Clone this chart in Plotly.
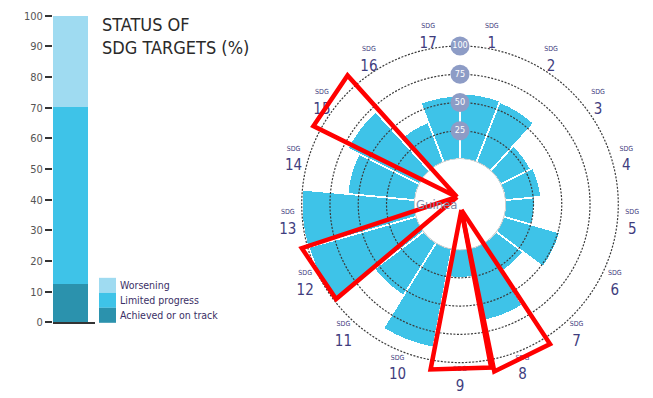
import numpy as np
import plotly.graph_objects as go

# ---- Status of SDG targets (%) ----
status_labels = ["Achieved or on track", "Limited progress", "Worsening"]
status_values = [12.7, 57.6, 29.7]
status_colors = ["#2b92ad", "#3ec3e8", "#9fdbf1"]
y_ticks = list(range(0, 101, 10))

# ---- Progress by goal (radial bars) ----
country = "Guinea"
sdg_numbers = list(range(1, 18))
sdg_values = [58, 57, 30, 32, 26, 52, 30, 65, 25, 89, 55, 99, 100, 60, 71, 38, 56]
ring_values = [25, 50, 75, 100]

# Red highlight triangles (theta clockwise from north, r in goal units)
highlight_theta = [
    [338.0, 318.9, 298.1, 338.0],
    [338.0, 254.5, 232.6, 338.0],
    [165.8, 190.1, 169.2, 165.8],
    [165.8, 168.4, 147.2, 165.8],
]
highlight_r = [
    [-33.0, 111.3, 107.0, -33.0],
    [-33.0, 105.2, 98.0, -33.0],
    [-34.9, 108.4, 107.0, -34.9],
    [-34.9, 110.9, 107.0, -34.9],
]

FONT = "Liberation Sans Narrow, DejaVu Sans Condensed, Arial Narrow, sans-serif"
BAR_BLUE = "#3ec3e8"
LABEL_COLOR = "#3f3d7e"

W, H = 653, 398
# polar geometry (pixels)
CX, CY, R_OUT = 460, 205, 187
R_MAX = 120.0
HOLE = 0.25
R_MAX2 = R_MAX / (1 - HOLE)
OFFSET = R_MAX2 - R_MAX

pdom_x = [(CX - R_OUT) / W, (CX + R_OUT) / W]
pdom_y = [(H - CY - R_OUT) / H, (H - CY + R_OUT) / H]

fig = go.Figure()

# stacked status bar
for lab, val, col in zip(status_labels, status_values, status_colors):
    fig.add_trace(go.Bar(
        x=[0], y=[val], name=lab, marker=dict(color=col, line=dict(width=0)),
        width=1.0, showlegend=False, hoverinfo="skip",
    ))

# radial bars
n = len(sdg_numbers)
step = 360.0 / n
theta_mid = [(k - 0.5) * step for k in sdg_numbers]

fig.add_trace(go.Barpolar(
    r=sdg_values, theta=theta_mid, width=[step] * n,
    marker=dict(color=BAR_BLUE, line=dict(color="white", width=1.8)),
    subplot="polar", showlegend=False, hoverinfo="skip",
))

# dashed value rings, drawn over the bars
ring_theta = np.linspace(0, 360, 361)
for rv in ring_values:
    fig.add_trace(go.Scatterpolar(
        r=[rv] * len(ring_theta), theta=ring_theta, mode="lines",
        line=dict(color="#3a3a3a", width=1.2, dash="2px,1.5px"), subplot="polar",
        showlegend=False, hoverinfo="skip",
    ))

# hole outline
fig.add_trace(go.Scatterpolar(
    r=[0] * len(ring_theta), theta=ring_theta, mode="lines",
    line=dict(color="#c4c4c4", width=1.5), subplot="polar",
    showlegend=False, hoverinfo="skip",
))

# ring value badges
fig.add_trace(go.Scatterpolar(
    r=ring_values, theta=[0] * len(ring_values), mode="markers+text",
    marker=dict(size=19, color="#8d9cc6"),
    text=[str(v) for v in ring_values], textposition="middle center",
    textfont=dict(family=FONT, size=9, color="white"),
    subplot="polar", showlegend=False, hoverinfo="skip", cliponaxis=False,
))

# goal labels
fig.add_trace(go.Scatterpolar(
    r=[113] * n, theta=theta_mid, mode="text",
    text=[f"<span style='font-size:7px'>SDG</span><br>{k}" for k in sdg_numbers],
    textposition="middle center",
    textfont=dict(family=FONT, size=15, color=LABEL_COLOR),
    subplot="polar", showlegend=False, hoverinfo="skip", cliponaxis=False,
))

# highlight triangles on an overlay polar without hole
for th, rr in zip(highlight_theta, highlight_r):
    fig.add_trace(go.Scatterpolar(
        r=np.array(rr) + OFFSET, theta=th, mode="lines",
        line=dict(color="#ff0000", width=4.5), subplot="polar2",
        showlegend=False, hoverinfo="skip",
    ))

fig.update_layout(
    width=W, height=H, margin=dict(l=0, r=0, t=0, b=0),
    paper_bgcolor="white", plot_bgcolor="white",
    barmode="stack", bargap=0,
    font=dict(family=FONT),
    xaxis=dict(domain=[53 / W, 95 / W], range=[-0.5, 0.7], showticklabels=False,
               showgrid=False, zeroline=False, showline=True,
               linecolor="#333", linewidth=1.5, ticks=""),
    yaxis=dict(domain=[(H - 327) / H, (H - 10) / H], range=[0, 100],
               tickvals=y_ticks, ticks="outside", ticklen=7, tickwidth=1.5,
               tickcolor="#333", showgrid=False, zeroline=False, showline=False,
               tickfont=dict(family=FONT, size=11, color="#555")),
    polar=dict(
        domain=dict(x=pdom_x, y=pdom_y), hole=HOLE, bgcolor="rgba(0,0,0,0)",
        angularaxis=dict(rotation=90, direction="clockwise", showline=False,
                         showticklabels=False, ticks="", showgrid=False),
        radialaxis=dict(range=[0, R_MAX], showticklabels=False, showgrid=False,
                        ticks="", showline=False),
    ),
    polar2=dict(
        domain=dict(x=pdom_x, y=pdom_y), bgcolor="rgba(0,0,0,0)",
        angularaxis=dict(rotation=90, direction="clockwise", showline=False,
                         showticklabels=False, ticks="", showgrid=False),
        radialaxis=dict(range=[0, R_MAX2], showticklabels=False, ticks="",
                        showline=False, showgrid=False),
    ),
)

# title
fig.add_annotation(
    x=100 / W, y=1 - 6 / H, xref="paper", yref="paper", xanchor="left", yanchor="top",
    text="STATUS OF<br>SDG TARGETS (%)", showarrow=False, align="left",
    font=dict(family=FONT, size=18, color="#2a2a2a"),
)

# legend swatches
legend_top = 281
sw_h = 15.5
for i, (lab, col) in enumerate(zip(status_labels[::-1], status_colors[::-1])):
    y0 = legend_top + i * sw_h
    fig.add_shape(type="rect", xref="paper", yref="paper",
                  x0=99 / W, x1=116 / W, y0=1 - (y0 + sw_h) / H, y1=1 - y0 / H,
                  fillcolor=col, line=dict(width=0))
    fig.add_annotation(x=118 / W, y=1 - (y0 + sw_h / 2) / H, xref="paper", yref="paper",
                       xanchor="left", yanchor="middle", text=lab, showarrow=False,
                       font=dict(family=FONT, size=10.5, color="#3b2f66"))

# country name in the centre
fig.add_annotation(
    x=CX / W, y=1 - CY / H, xref="paper", yref="paper", text=country,
    showarrow=False, font=dict(family=FONT, size=13, color="#8088a6"),
)

fig.write_html("out.html")
